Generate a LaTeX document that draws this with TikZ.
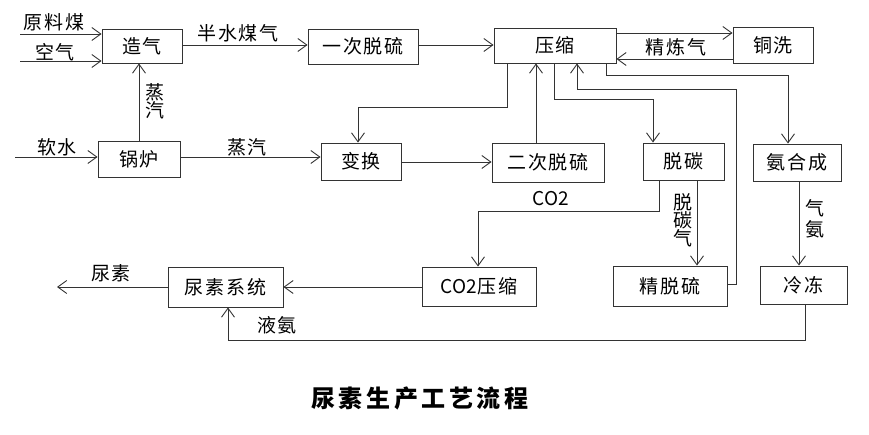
\documentclass[tikz,border=0pt]{standalone}
\usepackage{fontspec}
\setmainfont{Noto Sans CJK SC}[LetterSpace=10]
\newfontfamily\latf{Noto Sans CJK SC}
\usetikzlibrary{arrows.meta}
\definecolor{ln}{HTML}{333333}
\tikzset{
  box/.style={draw=ln, line width=0.9pt, inner sep=0pt, text=black,
    font=\fontsize{19}{19}\selectfont},
  lbl/.style={inner sep=0pt, text=black, font=\fontsize{19}{19}\selectfont},
  vlbl/.style={inner sep=0pt, text=black, align=center, font=\fontsize{19}{18}\selectfont},
  arr/.style={draw=ln, line width=0.9pt, -{Straight Barb[length=9pt,width=13pt,line width=0.9pt]}},
  ln/.style={draw=ln, line width=0.9pt}
}
\begin{document}
\begin{tikzpicture}[x=1pt,y=-1pt]
\useasboundingbox (0,0) rectangle (869,435);
% boxes
\node[box, minimum width=80pt, minimum height=34pt] (zq) at (142,46) {造气};
\node[box, minimum width=82pt, minimum height=36pt] (gl) at (139,159) {锅炉};
\node[box, minimum width=110pt, minimum height=35pt] (yc) at (363,46.5) {一次脱硫};
\node[box, minimum width=122pt, minimum height=35pt] (ys) at (555,45.5) {压缩};
\node[box, minimum width=80pt, minimum height=36pt] (tx) at (773,45) {铜洗};
\node[box, minimum width=80pt, minimum height=37pt] (bh) at (361,161.5) {变换};
\node[box, minimum width=112pt, minimum height=39pt] (ec) at (548,162.5) {二次脱硫};
\node[box, minimum width=81pt, minimum height=37pt] (tt) at (683.5,161.5) {脱碳};
\node[box, minimum width=88pt, minimum height=37pt] (ah) at (797,162.5) {氨合成};
\node[box, minimum width=114pt, minimum height=39pt] (cy) at (479,286.5) {{\latf CO2}压缩};
\node[box, minimum width=114pt, minimum height=40pt] (jt) at (670,286) {精脱硫};
\node[box, minimum width=87pt, minimum height=38pt] (ld) at (803.5,285) {冷冻};
\node[box, minimum width=115pt, minimum height=40pt] (ns) at (225.5,287) {尿素系统};
% free ends
\coordinate (in1) at (20,34);
\coordinate (in2) at (20,61);
\coordinate (in3) at (15,157);
\coordinate (out1) at (57,287);
% labels
\node[lbl] (l1) at (54,22) {原料煤};
\node[lbl] (l2) at (55,52) {空气};
\node[lbl] (l3) at (238,33) {半水煤气};
\node[lbl] (l4) at (676,47) {精炼气};
\node[vlbl] (l5) at (155,101) {蒸\\汽};
\node[lbl] (l6) at (57,147) {软水};
\node[lbl] (l7) at (247,147) {蒸汽};
\node[lbl] (l8) at (551,199) {\latf CO2};
\node[vlbl] (l9) at (683,220) {脱\\碳\\气};
\node[vlbl, font=\fontsize{19}{21}\selectfont] (l10) at (815,219) {气\\氨};
\node[lbl] (l11) at (111,273) {尿素};
\node[lbl] (l12) at (277,325) {液氨};
\node[inner sep=0pt, font=\fontsize{24}{24}\selectfont\bfseries\addfontfeature{LetterSpace=15}] (title) at (420,398) {尿素生产工艺流程};
% connectors
\draw[arr] (in1) -- (in1 -| zq.west);
\draw[arr] (in2) -- (in2 -| zq.west);
\draw[arr] (zq.east |- 0,45) -- (yc.west |- 0,45);
\draw[arr] (yc.east |- 0,45) -- (ys.west |- 0,45);
\draw[arr] (ys.east |- 0,33) -- (tx.west |- 0,33);
\draw[arr] (tx.west |- 0,59) -- (ys.east |- 0,59);
\draw[arr] (gl.north -| 139,0) -- (zq.south -| 139,0);
\draw[arr] (in3) -- (in3 -| gl.west);
\draw[arr] (gl.east |- 0,157) -- (bh.west |- 0,157);
\draw[arr] (bh.east |- 0,162) -- (ec.west |- 0,162);
\draw[arr] (ec.north -| 536,0) -- (ys.south -| 536,0);
\draw[arr] (ys.south -| 507,0) -- (507,107) -- (358,107) -- (bh.north -| 358,0);
\draw[arr] (ys.south -| 554,0) -- (554,99) -- (653,99) -- (tt.north -| 653,0);
\draw[arr] (jt.east |- 0,284) -- (736,284) -- (736,89) -- (577,89) -- (ys.south -| 577,0);
\draw[arr] (ys.south -| 606,0) -- (606,75) -- (788,75) -- (ah.north -| 788,0);
\draw[arr] (tt.south -| 659,0) -- (659,211) -- (478,211) -- (cy.north -| 478,0);
\draw[arr] (tt.south -| 697,0) -- (jt.north -| 697,0);
\draw[arr] (ah.south -| 799,0) -- (ld.north -| 799,0);
\draw[arr] (cy.west |- 0,287) -- (ns.east |- 0,287);
\draw[arr] (ns.west |- 0,287) -- (out1);
\draw[arr] (ld.south -| 805,0) -- (805,340) -- (228,340) -- (ns.south -| 228,0);
\end{tikzpicture}
\end{document}
